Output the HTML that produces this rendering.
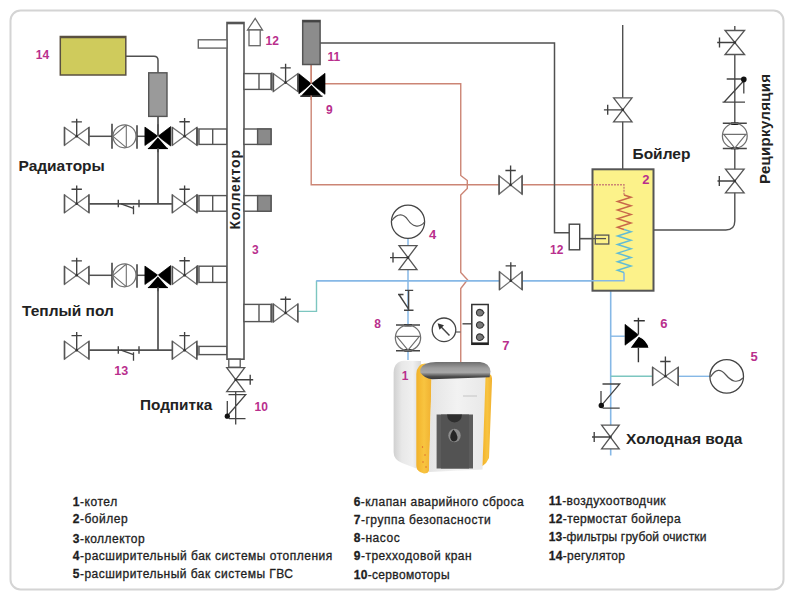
<!DOCTYPE html>
<html><head><meta charset="utf-8"><style>
html,body{margin:0;padding:0;background:#fff;}
body{width:791px;height:600px;overflow:hidden;font-family:"Liberation Sans",sans-serif;}
svg{display:block;}
</style></head><body>
<svg width="791" height="600" viewBox="0 0 791 600" font-family="'Liberation Sans', sans-serif">
<rect width="791" height="600" fill="#fff"/>
<rect x="10.5" y="10.5" width="773" height="579" rx="10" fill="#fff" stroke="#d4d4d4" stroke-width="2"/>
<path d="M311.2,64.6 V184.8 H593" stroke="#cc8575" stroke-width="1.4" fill="none"/>
<path d="M325,83.8 H460.75 V175.5 L467.3,180.5 V188.5 L460.75,195 V272.5 L467.5,279.8 L460.75,288.5 V362" stroke="#cc8575" stroke-width="1.4" fill="none"/>
<path d="M297.6,311.4 H316.5 V280.8" stroke="#7cc6c0" stroke-width="1.4" fill="none"/>
<path d="M316.5,280.8 H624" stroke="#86b8e6" stroke-width="1.6" fill="none"/>
<path d="M408,238 V325 M408,350.7 V360" stroke="#86b8e6" stroke-width="1.5" fill="none"/>
<path d="M610.7,290.7 V455.5" stroke="#86b8e6" stroke-width="1.6" fill="none"/>
<path d="M610.7,336.2 H624.7" stroke="#86b8e6" stroke-width="1.4" fill="none"/>
<path d="M610.7,376.3 H653" stroke="#7cc6c0" stroke-width="1.4" fill="none"/>
<path d="M678,376.3 H710" stroke="#86b8e6" stroke-width="1.4" fill="none"/>
<path d="M125.8,56.3 H154 Q158,56.3 158,60.3 V72.8" stroke="#505050" stroke-width="1.5" fill="none"/>
<path d="M158,116.4 V203.8" stroke="#505050" stroke-width="1.7" fill="none"/>
<path d="M158,287.5 V350.2" stroke="#505050" stroke-width="1.7" fill="none"/>
<path d="M89,136.3 H112" stroke="#505050" stroke-width="1.5" fill="none"/>
<path d="M137,136.3 H145" stroke="#505050" stroke-width="1.5" fill="none"/>
<path d="M89,203.8 H172" stroke="#505050" stroke-width="1.7" fill="none"/>
<path d="M89,275.3 H112" stroke="#505050" stroke-width="1.5" fill="none"/>
<path d="M137,275.3 H145" stroke="#505050" stroke-width="1.5" fill="none"/>
<path d="M89,350.2 H172" stroke="#505050" stroke-width="1.7" fill="none"/>
<path d="M320,43 H554.5 V232.8 H569.2" stroke="#505050" stroke-width="1.5" fill="none"/>
<path d="M579.7,238.6 H595.3" stroke="#505050" stroke-width="1.4" fill="none"/>
<path d="M622.7,25 V169.3" stroke="#505050" stroke-width="1.4" fill="none"/>
<path d="M653.6,230 H725.8 Q734.8,230 734.8,221 V148.5 M734.8,123.3 V26" stroke="#505050" stroke-width="1.4" fill="none"/>
<rect x="592.5" y="169.3" width="61" height="121.4" fill="#fcf28a" stroke="#555" stroke-width="2" />
<path d="M316.5,280.8 H624 V272.5" stroke="#86b8e6" stroke-width="1.6" fill="none"/>
<path d="M593,184.8 H624 V195" stroke="#cc8575" stroke-width="1.4" fill="none" stroke-dasharray="2 1"/>
<path d="M624,195 L631,197.16 L617.5,201.47 L631,205.78 L617.5,210.09 L631,214.41 L617.5,218.72 L631,223.03 L617.5,227.34 L624,229.5" stroke="#c8684a" stroke-width="1.5" fill="none"/>
<path d="M624,229.5 L631,231.65 L617.5,235.95 L631,240.25 L617.5,244.55 L631,248.85 L617.5,253.15 L631,257.45 L617.5,261.75 L631,266.05 L617.5,270.35 L624,272.5" stroke="#62bcd4" stroke-width="1.5" fill="none"/>
<text x="642.3" y="183.5" font-size="13" font-weight="bold" fill="#b92f8d" text-anchor="start">2</text>
<rect x="569.2" y="224.2" width="10.5" height="25.6" fill="#fff" stroke="#444" stroke-width="1.4" />
<path d="M579.7,238.6 H606" stroke="#505050" stroke-width="1.3" fill="none"/>
<rect x="595.3" y="235.1" width="13.5" height="8.9" fill="none" stroke="#555" stroke-width="1.3" />
<text x="550" y="254" font-size="12" font-weight="bold" fill="#b92f8d" text-anchor="start">12</text>
<rect x="60.3" y="36.5" width="65.5" height="38.5" fill="#cfcb5c" stroke="#5a5040" stroke-width="1.5" />
<path d="M60.3,37.2 H125.8" stroke="#5a5040" stroke-width="2.2" fill="none"/>
<rect x="148.7" y="72.8" width="18.3" height="43.6" fill="#9a9a9a" stroke="#555" stroke-width="1.4" />
<text x="35.8" y="59.2" font-size="12" font-weight="bold" fill="#b92f8d" text-anchor="start">14</text>
<path d="M64.5,127.4 L64.5,145.20000000000002 L76.7,136.3 Z M88.9,127.4 L88.9,145.20000000000002 L76.7,136.3 Z" fill="#fff" stroke="#707070" stroke-width="1.25" stroke-linejoin="miter"/>
<path d="M64.5,127.10000000000001 V145.50000000000003 M88.9,127.10000000000001 V145.50000000000003" stroke="#555" stroke-width="1.5" fill="none"/>
<path d="M76.7,136.3 V118.70000000000002 M71.5,121.9 H81.9" stroke="#404040" stroke-width="1.35" fill="none"/>
<circle cx="76.7" cy="136.3" r="1.3" fill="#333"/>
<path d="M112,123.80000000000001 V148.8 M137,125.30000000000001 V148.8" stroke="#444" stroke-width="1.6" fill="none"/>
<circle cx="124.5" cy="136.3" r="11.5" fill="none" stroke="#707070" stroke-width="1.2"/>
<path d="M126.3,125.00000000000001 V147.60000000000002 M113,136.3 L126.3,125.00000000000001 M113,136.3 L126.3,147.60000000000002" stroke="#707070" stroke-width="1.1" fill="none"/>
<path d="M144.9,127.10000000000001 L144.9,145.5 L157.9,136.3 Z M170.70000000000002,126.60000000000001 L170.70000000000002,146.0 L157.9,136.3 Z" fill="#000" stroke="#000" stroke-width="0.7"/>
<path d="M147.6,148.5 H168.20000000000002 L157.9,136.60000000000002 Z" fill="#000" stroke="#fff" stroke-width="1.1" stroke-linejoin="round"/>
<path d="M147.9,148.5 H167.9" stroke="#000" stroke-width="1.2"/>
<path d="M172.4,127.4 L172.4,145.20000000000002 L184.6,136.3 Z M196.79999999999998,127.4 L196.79999999999998,145.20000000000002 L184.6,136.3 Z" fill="#fff" stroke="#707070" stroke-width="1.25" stroke-linejoin="miter"/>
<path d="M172.4,127.10000000000001 V145.50000000000003 M196.79999999999998,127.10000000000001 V145.50000000000003" stroke="#555" stroke-width="1.5" fill="none"/>
<path d="M184.6,136.3 V118.00000000000001 M179.4,121.70000000000002 H189.79999999999998" stroke="#404040" stroke-width="1.35" fill="none"/>
<circle cx="184.6" cy="136.3" r="1.3" fill="#333"/>
<path d="M158,124.30000000000001 V136.3 M158,148.3 V152.3" stroke="#505050" stroke-width="1.7" fill="none"/>
<path d="M64.5,266.40000000000003 L64.5,284.2 L76.7,275.3 Z M88.9,266.40000000000003 L88.9,284.2 L76.7,275.3 Z" fill="#fff" stroke="#707070" stroke-width="1.25" stroke-linejoin="miter"/>
<path d="M64.5,266.1 V284.5 M88.9,266.1 V284.5" stroke="#555" stroke-width="1.5" fill="none"/>
<path d="M76.7,275.3 V257.7 M71.5,260.90000000000003 H81.9" stroke="#404040" stroke-width="1.35" fill="none"/>
<circle cx="76.7" cy="275.3" r="1.3" fill="#333"/>
<path d="M112,262.8 V287.8 M137,264.3 V287.8" stroke="#444" stroke-width="1.6" fill="none"/>
<circle cx="124.5" cy="275.3" r="11.5" fill="none" stroke="#707070" stroke-width="1.2"/>
<path d="M126.3,264.0 V286.6 M113,275.3 L126.3,264.0 M113,275.3 L126.3,286.6" stroke="#707070" stroke-width="1.1" fill="none"/>
<path d="M144.9,266.1 L144.9,284.5 L157.9,275.3 Z M170.70000000000002,265.6 L170.70000000000002,285.0 L157.9,275.3 Z" fill="#000" stroke="#000" stroke-width="0.7"/>
<path d="M147.6,287.5 H168.20000000000002 L157.9,275.6 Z" fill="#000" stroke="#fff" stroke-width="1.1" stroke-linejoin="round"/>
<path d="M147.9,287.5 H167.9" stroke="#000" stroke-width="1.2"/>
<path d="M172.4,266.40000000000003 L172.4,284.2 L184.6,275.3 Z M196.79999999999998,266.40000000000003 L196.79999999999998,284.2 L184.6,275.3 Z" fill="#fff" stroke="#707070" stroke-width="1.25" stroke-linejoin="miter"/>
<path d="M172.4,266.1 V284.5 M196.79999999999998,266.1 V284.5" stroke="#555" stroke-width="1.5" fill="none"/>
<path d="M184.6,275.3 V257.0 M179.4,260.7 H189.79999999999998" stroke="#404040" stroke-width="1.35" fill="none"/>
<circle cx="184.6" cy="275.3" r="1.3" fill="#333"/>
<path d="M158,287.3 V291.3" stroke="#505050" stroke-width="1.7" fill="none"/>
<path d="M64.5,194.9 L64.5,212.70000000000002 L76.7,203.8 Z M88.9,194.9 L88.9,212.70000000000002 L76.7,203.8 Z" fill="#fff" stroke="#707070" stroke-width="1.25" stroke-linejoin="miter"/>
<path d="M64.5,194.6 V213.00000000000003 M88.9,194.6 V213.00000000000003" stroke="#555" stroke-width="1.5" fill="none"/>
<path d="M76.7,203.8 V185.5 M71.5,189.20000000000002 H81.9" stroke="#404040" stroke-width="1.35" fill="none"/>
<circle cx="76.7" cy="203.8" r="1.3" fill="#333"/>
<path d="M172.4,194.9 L172.4,212.70000000000002 L184.6,203.8 Z M196.79999999999998,194.9 L196.79999999999998,212.70000000000002 L184.6,203.8 Z" fill="#fff" stroke="#707070" stroke-width="1.25" stroke-linejoin="miter"/>
<path d="M172.4,194.6 V213.00000000000003 M196.79999999999998,194.6 V213.00000000000003" stroke="#555" stroke-width="1.5" fill="none"/>
<path d="M184.6,203.8 V185.5 M179.4,189.20000000000002 H189.79999999999998" stroke="#404040" stroke-width="1.35" fill="none"/>
<circle cx="184.6" cy="203.8" r="1.3" fill="#333"/>
<path d="M118.3,199.8 V207.3 M139,199.8 V207.3" stroke="#444" stroke-width="1.4" fill="none"/>
<path d="M121,203.8 L133.5,208.3 M133.5,205.8 V214.3" stroke="#444" stroke-width="1.3" fill="none"/>
<path d="M64.5,341.3 L64.5,359.09999999999997 L76.7,350.2 Z M88.9,341.3 L88.9,359.09999999999997 L76.7,350.2 Z" fill="#fff" stroke="#707070" stroke-width="1.25" stroke-linejoin="miter"/>
<path d="M64.5,341.0 V359.4 M88.9,341.0 V359.4" stroke="#555" stroke-width="1.5" fill="none"/>
<path d="M76.7,350.2 V331.9 M71.5,335.59999999999997 H81.9" stroke="#404040" stroke-width="1.35" fill="none"/>
<circle cx="76.7" cy="350.2" r="1.3" fill="#333"/>
<path d="M172.4,341.3 L172.4,359.09999999999997 L184.6,350.2 Z M196.79999999999998,341.3 L196.79999999999998,359.09999999999997 L184.6,350.2 Z" fill="#fff" stroke="#707070" stroke-width="1.25" stroke-linejoin="miter"/>
<path d="M172.4,341.0 V359.4 M196.79999999999998,341.0 V359.4" stroke="#555" stroke-width="1.5" fill="none"/>
<path d="M184.6,350.2 V331.9 M179.4,335.59999999999997 H189.79999999999998" stroke="#404040" stroke-width="1.35" fill="none"/>
<circle cx="184.6" cy="350.2" r="1.3" fill="#333"/>
<path d="M118.3,346.2 V353.7 M139,346.2 V353.7" stroke="#444" stroke-width="1.4" fill="none"/>
<path d="M121,350.2 L133.5,354.7 M133.5,352.2 V360.7" stroke="#444" stroke-width="1.3" fill="none"/>
<path d="M197.5,128 V145.4" stroke="#555" stroke-width="1.6" fill="none"/>
<rect x="199" y="129" width="28" height="15.400000000000006" fill="#fff" stroke="#555" stroke-width="1.4" />
<path d="M212.7,129 V144.4" stroke="#555" stroke-width="1.4" fill="none"/>
<path d="M197.5,194.6 V212.2" stroke="#555" stroke-width="1.6" fill="none"/>
<rect x="199" y="195.6" width="28" height="15.599999999999994" fill="#fff" stroke="#555" stroke-width="1.4" />
<path d="M212.7,195.6 V211.2" stroke="#555" stroke-width="1.4" fill="none"/>
<path d="M197.5,265.2 V283.4" stroke="#555" stroke-width="1.6" fill="none"/>
<rect x="199" y="266.2" width="28" height="16.19999999999999" fill="#fff" stroke="#555" stroke-width="1.4" />
<path d="M212.7,266.2 V282.4" stroke="#555" stroke-width="1.4" fill="none"/>
<path d="M197.5,345.4 V355.6" stroke="#555" stroke-width="1.6" fill="none"/>
<rect x="199" y="346.4" width="28" height="8.200000000000045" fill="#fff" stroke="#555" stroke-width="1.4" />
<rect x="227" y="22.5" width="17" height="336.7" fill="#fff" stroke="#555" stroke-width="1.6" />
<path d="M227,23.2 H244" stroke="#555" stroke-width="2.2" fill="none"/>
<text transform="translate(239.8,229.5) rotate(-90)" font-size="14" font-weight="bold" fill="#222" textLength="79.5" lengthAdjust="spacing">Коллектор</text>
<rect x="198.3" y="39.8" width="28.7" height="8.3" fill="#fff" stroke="#666" stroke-width="1.4" />
<path d="M247.5,30 L255.2,18.5 L262.5,30 Z" fill="#fff" stroke="#666" stroke-width="1.3"/>
<rect x="249" y="30" width="11.2" height="15.7" fill="#fff" stroke="#666" stroke-width="1.3" />
<text x="265.5" y="45.3" font-size="12" font-weight="bold" fill="#b92f8d" text-anchor="start">12</text>
<text x="252" y="253.5" font-size="12" font-weight="bold" fill="#b92f8d" text-anchor="start">3</text>
<rect x="244" y="73.6" width="27" height="15.800000000000011" fill="#fff" stroke="#555" stroke-width="1.4" />
<path d="M259,73.6 V89.4" stroke="#555" stroke-width="1.4" fill="none"/>
<rect x="244" y="129" width="27" height="15.400000000000006" fill="#fff" stroke="#555" stroke-width="1.4" />
<rect x="257.6" y="129" width="13.4" height="15.400000000000006" fill="#8a8a8a" stroke="#555" stroke-width="1.4" />
<rect x="244" y="195.6" width="27" height="15.599999999999994" fill="#fff" stroke="#555" stroke-width="1.4" />
<rect x="257.6" y="195.6" width="13.4" height="15.599999999999994" fill="#8a8a8a" stroke="#555" stroke-width="1.4" />
<rect x="244" y="304.4" width="27" height="17.200000000000045" fill="#fff" stroke="#555" stroke-width="1.4" />
<path d="M259,304.4 V321.6" stroke="#555" stroke-width="1.4" fill="none"/>
<path d="M271.8,72.6 V90.4" stroke="#555" stroke-width="1.6" fill="none"/>
<path d="M271.8,303.4 V322.6" stroke="#555" stroke-width="1.6" fill="none"/>
<path d="M273.40000000000003,73.69999999999999 L273.40000000000003,91.5 L285.6,82.6 Z M297.8,73.69999999999999 L297.8,91.5 L285.6,82.6 Z" fill="#fff" stroke="#707070" stroke-width="1.25" stroke-linejoin="miter"/>
<path d="M273.40000000000003,73.39999999999999 V91.8 M297.8,73.39999999999999 V91.8" stroke="#555" stroke-width="1.5" fill="none"/>
<path d="M285.6,82.6 V63.8 M280.40000000000003,67.89999999999999 H290.8" stroke="#404040" stroke-width="1.35" fill="none"/>
<circle cx="285.6" cy="82.6" r="1.3" fill="#333"/>
<path d="M273.40000000000003,304.1 L273.40000000000003,321.9 L285.6,313 Z M297.8,304.1 L297.8,321.9 L285.6,313 Z" fill="#fff" stroke="#707070" stroke-width="1.25" stroke-linejoin="miter"/>
<path d="M273.40000000000003,303.8 V322.2 M297.8,303.8 V322.2" stroke="#555" stroke-width="1.5" fill="none"/>
<path d="M285.6,313 V296.5 M280.40000000000003,299.2 H290.8" stroke="#404040" stroke-width="1.35" fill="none"/>
<circle cx="285.6" cy="313" r="1.3" fill="#333"/>
<path d="M298.9,73.8 L298.9,93.8 L311.4,83.8 Z M325.0,73.3 L325.0,94.3 L311.4,83.8 Z" fill="#000" stroke="#000" stroke-width="0.7"/>
<path d="M300.0,96.2 H322.79999999999995 L311.4,84.1 Z" fill="#000" stroke="#fff" stroke-width="1.1" stroke-linejoin="round"/>
<path d="M300.3,96.2 H322.49999999999994" stroke="#000" stroke-width="1.2"/>
<path d="M311.2,64.6 V83.8 M311.2,95.5 V100" stroke="#cc8575" stroke-width="1.4" fill="none"/>
<rect x="302.7" y="20.5" width="17.4" height="44" fill="#8c8c8c" stroke="#555" stroke-width="1.5" />
<path d="M302.7,21.3 H320.1" stroke="#444" stroke-width="2.2" fill="none"/>
<text x="327.6" y="60.6" font-size="12" font-weight="bold" fill="#b92f8d" text-anchor="start">11</text>
<text x="326" y="114.3" font-size="12" font-weight="bold" fill="#b92f8d" text-anchor="start">9</text>
<rect x="228.8" y="359.2" width="11.4" height="8" fill="#fff" stroke="#555" stroke-width="1.3" />
<path d="M226.7,367.7 H244.7 L235.7,379.7 Z M226.7,391.7 H244.7 L235.7,379.7 Z" fill="#fff" stroke="#555" stroke-width="1.3"/>
<path d="M235.7,379.7 H253.2 M250.2,374.7 V384.7" stroke="#404040" stroke-width="1.35" fill="none"/>
<circle cx="235.7" cy="379.7" r="1.3" fill="#333"/>
<path d="M228.5,394.7 H245.7 L227.7,415.5 M235.7,391.7 V424.5 M227.3,401 V415 M229,418.7 H245.5" stroke="#444" stroke-width="1.3" fill="none"/>
<circle cx="227.3" cy="416.2" r="2.6" fill="#111"/>
<text x="254.5" y="411" font-size="12" font-weight="bold" fill="#b92f8d" text-anchor="start">10</text>
<circle cx="408" cy="221.7" r="16.6" fill="#fff" stroke="#444" stroke-width="1.3"/>
<path d="M391.5,221 C398,212 404,214 408,220 C412,226 419,229 424.5,222" stroke="#555" stroke-width="1.2" fill="none"/>
<path d="M399,245.60000000000002 H417 L408,257.6 Z M399,269.6 H417 L408,257.6 Z" fill="#fff" stroke="#555" stroke-width="1.3"/>
<path d="M408,257.6 H390 M393,252.60000000000002 V262.6" stroke="#404040" stroke-width="1.35" fill="none"/>
<circle cx="408" cy="257.6" r="1.3" fill="#333"/>
<text x="428.9" y="238.8" font-size="13" font-weight="bold" fill="#b92f8d" text-anchor="start">4</text>
<path d="M405,290.4 H413.2 M404,310.2 H413.5 M408.6,290.4 V310.2 M398,294.5 H403.5 M399,294.5 L408.3,308.7" stroke="#444" stroke-width="1.4" fill="none"/>
<path d="M396,325 H420 M396,350.7 H420" stroke="#444" stroke-width="1.6" fill="none"/>
<path d="M404.3,325.4 H411.7 M404.3,350.3 H411.7" stroke="#111" stroke-width="2.4" fill="none"/>
<circle cx="408" cy="337.85" r="12.65" fill="none" stroke="#707070" stroke-width="1.25"/>
<path d="M395.75,336.35 H420.25 M396.85,336.65000000000003 L408,350.2 L419.15,336.65000000000003" stroke="#707070" stroke-width="1.15" fill="none"/>
<text x="374.3" y="328.3" font-size="12" font-weight="bold" fill="#b92f8d" text-anchor="start">8</text>
<circle cx="444" cy="329.8" r="11.8" fill="#fff" stroke="#444" stroke-width="1.3"/>
<path d="M449.5,335.5 L440.5,326.3" stroke="#444" stroke-width="1.5" fill="none"/>
<path d="M437.6,323.3 L444,325.2 L439.5,329.7 Z" fill="#333"/>
<path d="M455.8,332 H460.5" stroke="#555" stroke-width="1.2" fill="none"/>
<path d="M462.5,323.8 H471.8" stroke="#555" stroke-width="1.5" fill="none"/>
<rect x="471.8" y="304.5" width="16.4" height="39.8" fill="#fff" stroke="#333" stroke-width="1.5" />
<path d="M471.8,343.6 H488.2" stroke="#222" stroke-width="2.4" fill="none"/>
<path d="M476.4,312.7 Q476.8,309.3 480,309.4 Q482.6,309.7 484,312.7 Q482.6,315.7 480,316.0 Q476.8,316.09999999999997 476.4,312.7 Z" fill="#7a7a7a" stroke="#383838" stroke-width="1.1"/>
<path d="M476.4,325 Q476.8,321.6 480,321.7 Q482.6,322 484,325 Q482.6,328 480,328.3 Q476.8,328.4 476.4,325 Z" fill="#7a7a7a" stroke="#383838" stroke-width="1.1"/>
<path d="M476.4,337.2 Q476.8,333.8 480,333.9 Q482.6,334.2 484,337.2 Q482.6,340.2 480,340.5 Q476.8,340.59999999999997 476.4,337.2 Z" fill="#7a7a7a" stroke="#383838" stroke-width="1.1"/>
<text x="502.3" y="349.8" font-size="13" font-weight="bold" fill="#b92f8d" text-anchor="start">7</text>
<path d="M499.1,175.70000000000002 L499.1,194.1 L510.6,184.9 Z M522.1,175.70000000000002 L522.1,194.1 L510.6,184.9 Z" fill="#fff" stroke="#707070" stroke-width="1.25" stroke-linejoin="miter"/>
<path d="M499.1,175.4 V194.4 M522.1,175.4 V194.4" stroke="#555" stroke-width="1.5" fill="none"/>
<path d="M510.6,184.9 V165.4 M505.40000000000003,170.5 H515.8000000000001" stroke="#404040" stroke-width="1.35" fill="none"/>
<circle cx="510.6" cy="184.9" r="1.3" fill="#333"/>
<path d="M499.5,271.8 L499.5,289.8 L510.8,280.8 Z M522.1,271.8 L522.1,289.8 L510.8,280.8 Z" fill="#fff" stroke="#707070" stroke-width="1.25" stroke-linejoin="miter"/>
<path d="M499.5,271.5 V290.1 M522.1,271.5 V290.1" stroke="#555" stroke-width="1.5" fill="none"/>
<path d="M510.8,280.8 V262.2 M505.6,265.8 H516.0" stroke="#404040" stroke-width="1.35" fill="none"/>
<circle cx="510.8" cy="280.8" r="1.3" fill="#333"/>
<path d="M613.5999999999999,97.8 H632.0 L622.8,109.8 Z M613.5999999999999,121.8 H632.0 L622.8,109.8 Z" fill="#fff" stroke="#555" stroke-width="1.3"/>
<path d="M622.8,109.8 H603.9 M607.6999999999999,104.8 V114.8" stroke="#404040" stroke-width="1.35" fill="none"/>
<circle cx="622.8" cy="109.8" r="1.3" fill="#333"/>
<text x="632.5" y="158.8" font-size="15.5" font-weight="bold" fill="#222" text-anchor="start">Бойлер</text>
<path d="M725.0,30.5 H744.5999999999999 L734.8,42.5 Z M725.0,54.5 H744.5999999999999 L734.8,42.5 Z" fill="#fff" stroke="#555" stroke-width="1.3"/>
<path d="M734.8,42.5 H717.1999999999999 M719.5,37.5 V47.5" stroke="#404040" stroke-width="1.35" fill="none"/>
<circle cx="734.8" cy="42.5" r="1.3" fill="#333"/>
<path d="M726.7,79 H742.7 M743.8,80.5 V93.5 M743.8,80.7 L724,102.2 M722.5,102.2 H745" stroke="#444" stroke-width="1.3" fill="none"/>
<circle cx="743.8" cy="79.4" r="2.8" fill="#111"/>
<path d="M722.8,123.3 H746.8 M722.8,148.5 H746.8" stroke="#444" stroke-width="1.6" fill="none"/>
<path d="M731.0999999999999,123.7 H738.5 M731.0999999999999,148.1 H738.5" stroke="#111" stroke-width="2.4" fill="none"/>
<circle cx="734.8" cy="135.9" r="12.4" fill="none" stroke="#707070" stroke-width="1.25"/>
<path d="M722.8,134.4 H746.8 M723.9,134.70000000000002 L734.8,148.0 L745.6999999999999,134.70000000000002" stroke="#707070" stroke-width="1.15" fill="none"/>
<path d="M725.5,169.2 H744.0999999999999 L734.8,181 Z M725.5,192.8 H744.0999999999999 L734.8,181 Z" fill="#fff" stroke="#555" stroke-width="1.3"/>
<path d="M734.8,181 H717.5 M719.3,176 V186" stroke="#404040" stroke-width="1.35" fill="none"/>
<circle cx="734.8" cy="181" r="1.3" fill="#333"/>
<text transform="translate(770,184) rotate(-90)" font-size="15" font-weight="bold" fill="#222" letter-spacing="0.3">Рециркуляция</text>
<path d="M625,324.3 L625,345.2 L638.6,335 Z" fill="#000" stroke="#000" stroke-width="0.6"/>
<path d="M629.5,348.4 L638.5,336 Q647.5,340 649.3,348.4 Z" fill="#000" stroke="#fff" stroke-width="1.3" stroke-linejoin="round"/>
<path d="M638.4,317.7 V334.5 M638.4,348 V362.3 M633.8,320.8 H644.8" stroke="#333" stroke-width="1.4" fill="none"/>
<text x="660.3" y="328.2" font-size="13" font-weight="bold" fill="#b92f8d" text-anchor="start">6</text>
<path d="M652.6,367.2 L652.6,385.40000000000003 L665.4,376.3 Z M678.1999999999999,367.2 L678.1999999999999,385.40000000000003 L665.4,376.3 Z" fill="#fff" stroke="#707070" stroke-width="1.25" stroke-linejoin="miter"/>
<path d="M652.6,366.9 V385.70000000000005 M678.1999999999999,366.9 V385.70000000000005" stroke="#555" stroke-width="1.5" fill="none"/>
<path d="M665.4,376.3 V356.5 M660.1999999999999,361.5 H670.6" stroke="#404040" stroke-width="1.35" fill="none"/>
<circle cx="665.4" cy="376.3" r="1.3" fill="#333"/>
<circle cx="726.7" cy="376.4" r="16.8" fill="#fff" stroke="#444" stroke-width="1.3"/>
<path d="M710.5,377 C716,368 721,369 726,375 C731,381 737,384 743,378" stroke="#555" stroke-width="1.2" fill="none"/>
<text x="750.5" y="361" font-size="13" font-weight="bold" fill="#b92f8d" text-anchor="start">5</text>
<path d="M602.5,384 H619.7 L601.7,405.2 M601,391 V405 M602.5,408.2 H619.7" stroke="#444" stroke-width="1.3" fill="none"/>
<circle cx="601.3" cy="405.5" r="2.7" fill="#111"/>
<path d="M601.6,425.2 H619.1999999999999 L610.4,437 Z M601.6,448.8 H619.1999999999999 L610.4,437 Z" fill="#fff" stroke="#555" stroke-width="1.3"/>
<path d="M610.4,437 H592.0 M594.1999999999999,432 V442" stroke="#404040" stroke-width="1.35" fill="none"/>
<circle cx="610.4" cy="437" r="1.3" fill="#333"/>
<text x="626" y="444.2" font-size="15.5" font-weight="bold" fill="#222" text-anchor="start">Холодная вода</text>
<text x="18.5" y="171" font-size="15.5" font-weight="bold" fill="#222" text-anchor="start">Радиаторы</text>
<text x="22" y="316" font-size="15.5" font-weight="bold" fill="#222" text-anchor="start">Теплый пол</text>
<text x="140" y="409.8" font-size="15.3" font-weight="bold" fill="#222" text-anchor="start">Подпитка</text>
<text x="114.3" y="374.5" font-size="12.5" font-weight="bold" fill="#b92f8d" text-anchor="start">13</text>
<defs><linearGradient id="top" x1="0" y1="0" x2="0" y2="1"><stop offset="0" stop-color="#6e6e6e"/><stop offset="0.35" stop-color="#9c9c9c"/><stop offset="0.6" stop-color="#a8a8a8"/><stop offset="0.85" stop-color="#4a4a4a"/><stop offset="1" stop-color="#3a3a3a"/></linearGradient><linearGradient id="side" x1="0" y1="0" x2="1" y2="0"><stop offset="0" stop-color="#d0d0d0"/><stop offset="0.3" stop-color="#e8e8e8"/><stop offset="0.7" stop-color="#f0f0f0"/><stop offset="1" stop-color="#d8d8d8"/></linearGradient><linearGradient id="front" x1="0" y1="0" x2="1" y2="0"><stop offset="0" stop-color="#e4e4e4"/><stop offset="0.5" stop-color="#f2f2f2"/><stop offset="1" stop-color="#e8e8e8"/></linearGradient><linearGradient id="yel" x1="0" y1="0" x2="1" y2="0"><stop offset="0" stop-color="#f2b22a"/><stop offset="0.5" stop-color="#f8c440"/><stop offset="1" stop-color="#f0b030"/></linearGradient></defs>
<path d="M393.6,373 Q393.8,361.5 404,360.8 L421,361 L419,469.5 L402,463 Q393.6,459.5 393.6,452 Z" fill="url(#side)"/>
<path d="M416.3,374 Q417,364 425,363.5 Q430.5,364 431.8,371 L429.2,470 Q428.5,473.5 424,473.5 L420,472 Q416.3,470 416.3,465 Z" fill="url(#yel)"/>
<circle cx="426" cy="367" r="0.7" fill="#d8602a"/>
<circle cx="428.5" cy="370" r="0.7" fill="#d8602a"/>
<circle cx="430" cy="374" r="0.7" fill="#d8602a"/>
<circle cx="424" cy="366" r="0.7" fill="#d8602a"/>
<circle cx="422.5" cy="447" r="0.7" fill="#d8602a"/>
<circle cx="425" cy="455" r="0.7" fill="#d8602a"/>
<circle cx="423" cy="462" r="0.7" fill="#d8602a"/>
<circle cx="426" cy="467" r="0.7" fill="#d8602a"/>
<path d="M431.5,378 L486,377 L482.5,469.5 L429,472 Z" fill="url(#front)"/>
<path d="M485.5,377.5 L490.5,374.5 Q492.3,376 492,381 L489,458 Q487,463 482.5,466 Z" fill="url(#yel)"/>
<path d="M420.3,369 Q423.5,362 436,362 L480,362 Q489.5,362.8 490.5,371.5 L489.6,377.3 L432,379.3 Q424.5,378.5 420.3,372.5 Z" fill="url(#top)"/>
<path d="M463,396 H477" stroke="#c4c4c4" stroke-width="1" fill="none"/>
<rect x="436.6" y="414.5" width="36.4" height="54" fill="#5c5c5c"/>
<rect x="441" y="414.5" width="28" height="54" fill="#535353"/>
<path d="M447,414.5 Q447.5,422 454.5,422.5 Q461.5,422 462,414.5 Z" fill="#2e2e2e"/>
<ellipse cx="454.5" cy="435.5" rx="6.2" ry="6.8" fill="#8c8c8c"/>
<path d="M453.5,429.5 Q450,434 450.3,437.5 Q451,441.5 454,441.5 Q457.5,441 457.5,437 Q457,433 453.5,429.5 Z" fill="#252525"/>
<text x="401.7" y="379.6" font-size="12" font-weight="bold" fill="#b92f8d" text-anchor="start">1</text>
<text x="72.8" y="505.6" font-size="12" fill="#1e1e1e" stroke="#1e1e1e" stroke-width="0.3" textLength="44.4" lengthAdjust="spacing"><tspan font-weight="bold">1</tspan>-котел</text>
<text x="72.8" y="522.8" font-size="12" fill="#1e1e1e" stroke="#1e1e1e" stroke-width="0.3" textLength="54.8" lengthAdjust="spacing"><tspan font-weight="bold">2</tspan>-бойлер</text>
<text x="72.8" y="542.6" font-size="12" fill="#1e1e1e" stroke="#1e1e1e" stroke-width="0.3" textLength="71.8" lengthAdjust="spacing"><tspan font-weight="bold">3</tspan>-коллектор</text>
<text x="72.8" y="559.7" font-size="12" fill="#1e1e1e" stroke="#1e1e1e" stroke-width="0.3" textLength="259.4" lengthAdjust="spacing"><tspan font-weight="bold">4</tspan>-расширительный бак системы отопления</text>
<text x="72.8" y="578" font-size="12" fill="#1e1e1e" stroke="#1e1e1e" stroke-width="0.3" textLength="220.2" lengthAdjust="spacing"><tspan font-weight="bold">5</tspan>-расширительный бак системы ГВС</text>
<text x="353.7" y="506" font-size="12" fill="#1e1e1e" stroke="#1e1e1e" stroke-width="0.3" textLength="169.9" lengthAdjust="spacing"><tspan font-weight="bold">6</tspan>-клапан аварийного сброса</text>
<text x="353.7" y="523.8" font-size="12" fill="#1e1e1e" stroke="#1e1e1e" stroke-width="0.3" textLength="137.0" lengthAdjust="spacing"><tspan font-weight="bold">7</tspan>-группа безопасности</text>
<text x="353.7" y="542" font-size="12" fill="#1e1e1e" stroke="#1e1e1e" stroke-width="0.3" textLength="46.0" lengthAdjust="spacing"><tspan font-weight="bold">8</tspan>-насос</text>
<text x="353.7" y="559.6" font-size="12" fill="#1e1e1e" stroke="#1e1e1e" stroke-width="0.3" textLength="118.0" lengthAdjust="spacing"><tspan font-weight="bold">9</tspan>-трехходовой кран</text>
<text x="353.7" y="579.3" font-size="12" fill="#1e1e1e" stroke="#1e1e1e" stroke-width="0.3" textLength="95.8" lengthAdjust="spacing"><tspan font-weight="bold">10</tspan>-сервомоторы</text>
<text x="548.7" y="505" font-size="12" fill="#1e1e1e" stroke="#1e1e1e" stroke-width="0.3" textLength="116.8" lengthAdjust="spacing"><tspan font-weight="bold">11</tspan>-воздухоотводчик</text>
<text x="548.7" y="523.3" font-size="12" fill="#1e1e1e" stroke="#1e1e1e" stroke-width="0.3" textLength="131.9" lengthAdjust="spacing"><tspan font-weight="bold">12</tspan>-термостат бойлера</text>
<text x="548.7" y="541.3" font-size="12" fill="#1e1e1e" stroke="#1e1e1e" stroke-width="0.3" textLength="157.7" lengthAdjust="spacing"><tspan font-weight="bold">13</tspan>-фильтры грубой очистки</text>
<text x="548.7" y="560" font-size="12" fill="#1e1e1e" stroke="#1e1e1e" stroke-width="0.3" textLength="76.3" lengthAdjust="spacing"><tspan font-weight="bold">14</tspan>-регулятор</text>
</svg>
</body></html>
